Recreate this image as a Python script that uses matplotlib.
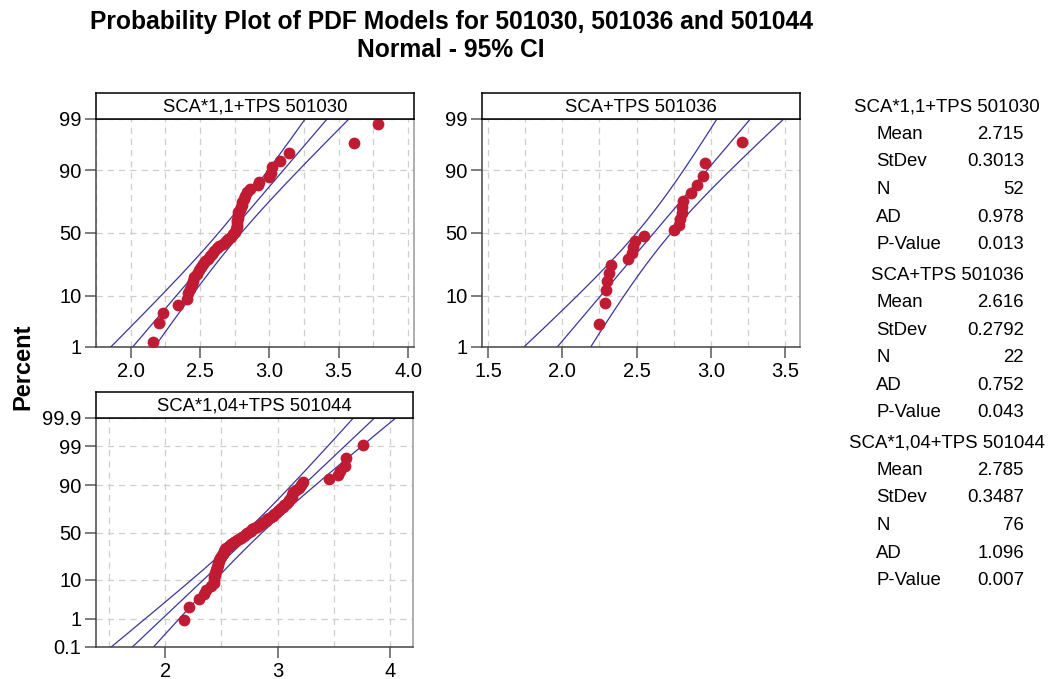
import matplotlib
matplotlib.use("Agg")
import matplotlib.pyplot as plt
import numpy as np
from statistics import NormalDist

plt.rcParams['font.family'] = ['Liberation Sans', 'DejaVu Sans']

# sorted sample values
names = ["SCA*1,1+TPS 501030", "SCA+TPS 501036", "SCA*1,04+TPS 501044"]
data_501030 = [2.158, 2.204, 2.230, 2.343, 2.405, 2.415, 2.425, 2.440, 2.448, 2.460,
               2.480, 2.490, 2.505, 2.520, 2.535, 2.555, 2.570, 2.585, 2.600, 2.620,
               2.640, 2.665, 2.685, 2.700, 2.725, 2.740, 2.752, 2.760, 2.764, 2.766,
               2.768, 2.770, 2.772, 2.774, 2.777, 2.785, 2.792, 2.800, 2.806, 2.815,
               2.825, 2.838, 2.860, 2.915, 2.925, 3.000, 3.010, 3.016, 3.076, 3.145,
               3.611, 3.786]
data_501036 = [2.247, 2.285, 2.296, 2.299, 2.314, 2.326, 2.445, 2.468, 2.475, 2.490,
               2.551, 2.749, 2.787, 2.794, 2.803, 2.809, 2.816, 2.866, 2.906, 2.949,
               2.960, 3.210]
data_501044 = [2.164, 2.214, 2.304, 2.342, 2.360, 2.408, 2.430, 2.437, 2.438, 2.443,
               2.447, 2.452, 2.457, 2.462, 2.467, 2.472, 2.478, 2.483, 2.490, 2.497,
               2.505, 2.512, 2.520, 2.527, 2.535, 2.545, 2.556, 2.570, 2.585, 2.600,
               2.615, 2.635, 2.655, 2.670, 2.685, 2.700, 2.715, 2.730, 2.745, 2.760,
               2.775, 2.790, 2.815, 2.830, 2.845, 2.860, 2.880, 2.895, 2.910, 2.925,
               2.940, 2.955, 2.970, 2.985, 3.000, 3.015, 3.030, 3.045, 3.060, 3.075,
               3.090, 3.105, 3.120, 3.125, 3.132, 3.140, 3.165, 3.190, 3.210, 3.230,
               3.458, 3.540, 3.555, 3.598, 3.613, 3.756]

means = [2.715, 2.616, 2.785]
stdevs = ["0.3013", "0.2792", "0.3487"]
counts = [52, 22, 76]
ad_values = ["0.978", "0.752", "1.096"]
p_values = ["0.013", "0.043", "0.007"]

y_ticks_small = [1, 10, 50, 90, 99]
y_ticks_big = [0.1, 1, 10, 50, 90, 99, 99.9]

red = '#C11B33'
navy = '#3A36A0'
gridc = '#CFCFCF'
spinec = '#444444'
tickc = '#666666'

nd = NormalDist()


def zval(p):
    return nd.inv_cdf(p)


def prob_panel(ax, values, mean, sd, yticks, xlim, xticks, xgrid, xfmt):
    x = np.sort(np.array(values))
    n = len(x)
    # Benard median ranks, as Minitab does
    z = np.array([zval((i - 0.3) / (n + 0.4)) for i in range(1, n + 1)])
    zz = np.linspace(-4, 4, 300)
    fit = mean + zz * sd
    half = 1.96 * sd * np.sqrt((1 + zz ** 2 / 2) / n)
    for line in (fit - half, fit, fit + half):
        ax.plot(line, zz, color=navy, lw=0.9, zorder=2)
    ax.scatter(x, z, s=72, color=red, zorder=3, linewidths=0)

    ax.set_xlim(*xlim)
    ax.set_ylim(zval(yticks[0] / 100), zval(yticks[-1] / 100))
    ax.set_yticks([zval(t / 100) for t in yticks])
    ax.set_yticklabels([f"{t:g}" for t in yticks])
    ax.set_xticks(xticks)
    ax.set_xticklabels([xfmt % t for t in xticks])
    ax.set_xticks(xgrid, minor=True)
    ax.tick_params(which='minor', length=0)
    ax.tick_params(which='major', direction='out', length=8, width=1.2,
                   color=tickc, labelsize=14.5, pad=2.5)
    ax.grid(which='both', axis='x', color=gridc, ls=(0, (5, 4)), lw=0.9)
    ax.grid(which='major', axis='y', color=gridc, ls=(0, (5, 4)), lw=0.9)
    ax.set_axisbelow(True)
    for s in ax.spines.values():
        s.set_color(spinec)
        s.set_linewidth(1.1)
    ax.spines['right'].set_color('#999999')


def strip(fig, rect, text):
    sax = fig.add_axes(rect)
    sax.set_xticks([])
    sax.set_yticks([])
    for s in sax.spines.values():
        s.set_color('black')
        s.set_linewidth(1.1)
    sax.text(0.5, 0.45, text, ha='center', va='center', fontsize=13.3,
             transform=sax.transAxes)


W, H = 1048, 679
fig = plt.figure(figsize=(W / 100, H / 100), dpi=100)


def rect(left, top, right, bottom):
    return [left / W, 1 - bottom / H, (right - left) / W, (bottom - top) / H]


ax1 = fig.add_axes(rect(96, 119, 414, 347))
prob_panel(ax1, data_501030, means[0], float(stdevs[0]), y_ticks_small,
           (1.757, 4.043), [2.0, 2.5, 3.0, 3.5, 4.0], np.arange(1.75, 4.1, 0.25), "%.1f")
strip(fig, rect(96, 93, 414, 119), names[0])

ax2 = fig.add_axes(rect(482, 119, 800, 347))
prob_panel(ax2, data_501036, means[1], float(stdevs[1]), y_ticks_small,
           (1.46, 3.60), [1.5, 2.0, 2.5, 3.0, 3.5], np.arange(1.5, 3.6, 0.25), "%.1f")
strip(fig, rect(482, 93, 800, 119), names[1])

ax3 = fig.add_axes(rect(96, 418, 413, 647))
prob_panel(ax3, data_501044, means[2], float(stdevs[2]), y_ticks_big,
           (1.384, 4.205), [2, 3, 4], np.arange(1.5, 4.1, 0.5), "%d")
strip(fig, rect(96, 392, 413, 418), names[2])

fig.text(451 / W, 1 - 22 / H, "Probability Plot of PDF Models for 501030, 501036 and 501044",
         ha='center', va='center', fontsize=17.7, fontweight='bold')
fig.text(451 / W, 1 - 50 / H, "Normal - 95% CI",
         ha='center', va='center', fontsize=17.7, fontweight='bold')
fig.text(23 / W, 1 - 367 / H, "Percent", rotation=90, ha='center', va='center',
         fontsize=17, fontweight='bold')

# summary table on the right
block_tops = [107, 275, 443]
row_step = 27.5
for k in range(3):
    y0 = block_tops[k]
    fig.text(947 / W, 1 - y0 / H, names[k], ha='center', va='center', fontsize=13.4)
    rows = [("Mean", f"{means[k]:.3f}"), ("StDev", stdevs[k]), ("N", str(counts[k])),
            ("AD", ad_values[k]), ("P-Value", p_values[k])]
    for j, (lab, val) in enumerate(rows):
        yy = y0 + row_step * (j + 1)
        fig.text(876 / W, 1 - yy / H, lab, ha='left', va='center', fontsize=13.4)
        fig.text(1024 / W, 1 - yy / H, val, ha='right', va='center', fontsize=13.4)

fig.savefig("out.png", dpi=100)
